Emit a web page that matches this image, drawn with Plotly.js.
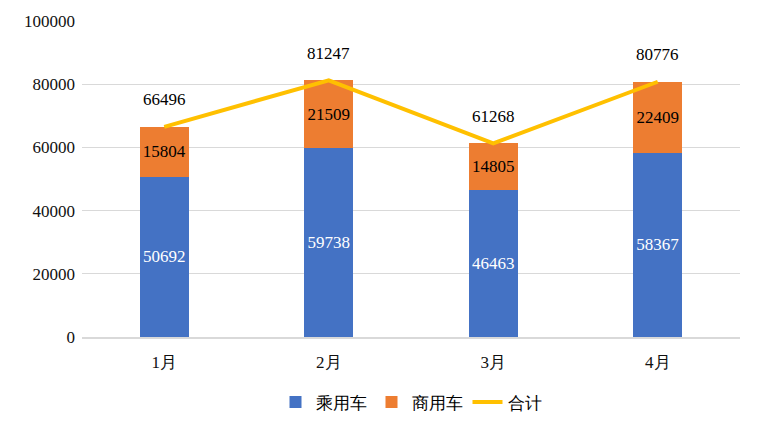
<!DOCTYPE html>
<html><head><meta charset="utf-8">
<script src="https://cdn.plot.ly/plotly-3.0.1.min.js"></script>
<style>html,body{margin:0;padding:0;background:#fff}</style>
</head><body>
<div id="chart" style="width:762px;height:432px"></div>
<script>
const categories = ['1月','2月','3月','4月'];
const passenger = [50692, 59738, 46463, 58367];
const commercial = [15804, 21509, 14805, 22409];
const total = [66496, 81247, 61268, 80776];
const yTicks = [0, 20000, 40000, 60000, 80000, 100000];

const serif = 'Liberation Serif, Times New Roman, serif';
const FS = 17;

const traces = [
  {type:'bar', name:'乘用车', x:categories, y:passenger, marker:{color:'#4472C4'},
   text:passenger.map(String), textposition:'inside', insidetextanchor:'middle',
   textfont:{family:serif, size:FS, color:'#ffffff'}, width:0.3, hoverinfo:'none'},
  {type:'bar', name:'商用车', x:categories, y:commercial, marker:{color:'#ED7D31'},
   text:commercial.map(String), textposition:'inside', insidetextanchor:'middle',
   textfont:{family:serif, size:FS, color:'#000000'}, width:0.3, hoverinfo:'none'},
  {type:'scatter', mode:'lines', name:'合计', x:categories, y:total,
   line:{color:'#FFC000', width:4}, hoverinfo:'none'}
];

const annotations = categories.map((c,i)=>({
  x:c, y:total[i], xref:'x', yref:'y', text:String(total[i]), showarrow:false,
  yshift:27, font:{family:serif, size:FS, color:'#000'}
}));

const layout = {
  width:762, height:432,
  margin:{l:82, r:22, t:21, b:93},
  barmode:'stack',
  paper_bgcolor:'#fff', plot_bgcolor:'#fff',
  font:{family:serif, size:FS, color:'#000'},
  xaxis:{type:'category', showgrid:false, showline:true, linecolor:'#d9d9d9', linewidth:1.5,
         automargin:false,
         ticks:'', ticklabelstandoff:9, tickfont:{family:serif, size:FS, color:'#111'}},
  yaxis:{range:[0,100000], tickvals:yTicks, ticktext:yTicks.map(String), automargin:false,
         showgrid:true, gridcolor:'#d9d9d9', gridwidth:1.3, zeroline:false, showline:false,
         ticks:'', ticklabelstandoff:6, tickfont:{family:serif, size:FS, color:'#111'}},
  legend:{orientation:'h', x:0.5, xanchor:'center', y:-0.15, yanchor:'top',
          font:{family:serif, size:FS, color:'#000'}, traceorder:'normal'},
  annotations:annotations,
  bargap:0.7
};

Plotly.newPlot('chart', traces, layout, {displayModeBar:false, staticPlot:true});
</script>
</body></html>
